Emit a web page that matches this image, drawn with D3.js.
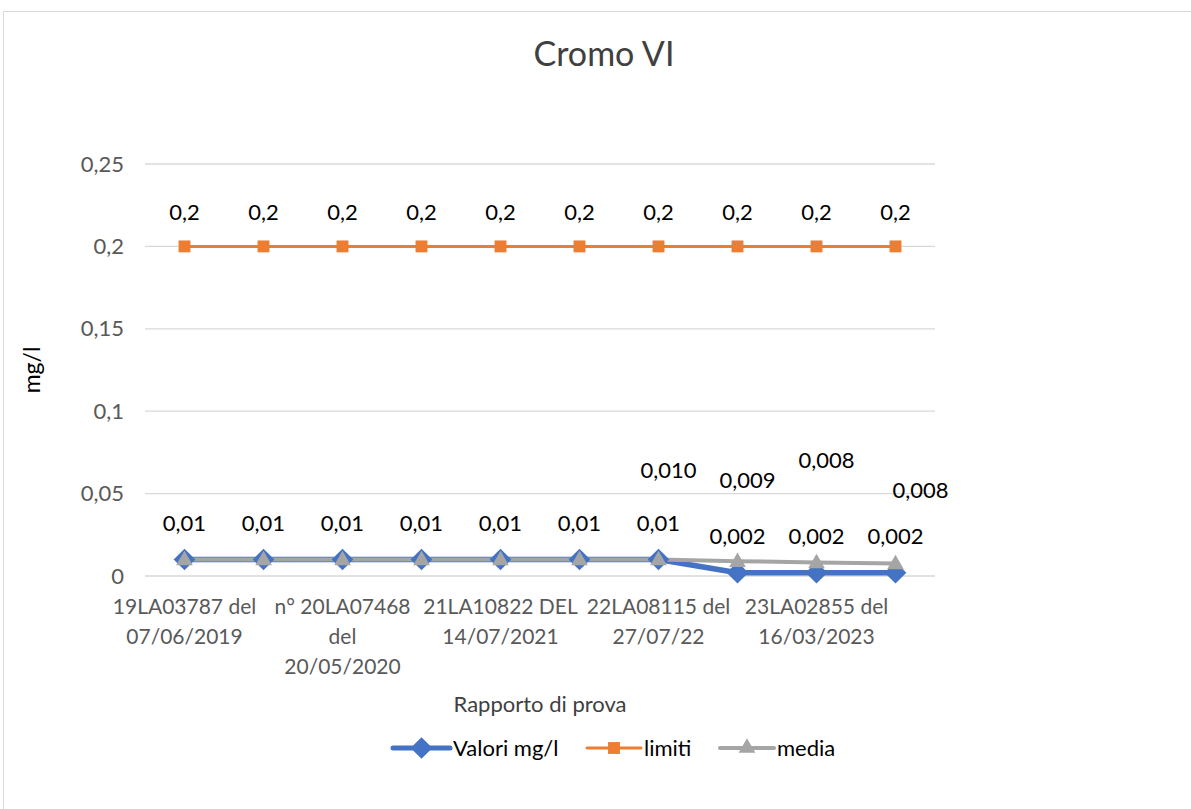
<!DOCTYPE html>
<html><head><meta charset="utf-8">
<script src="https://cdn.jsdelivr.net/npm/d3@7"></script>
<style>body{margin:0;background:#fff}svg{display:block}text{font-family:Lato,"Open Sans",sans-serif}</style>
</head><body><svg id="c" width="1191" height="809"></svg>
<script>
const categories = ["19LA03787 del\n07/06/2019","","n° 20LA07468\ndel\n20/05/2020","","21LA10822 DEL\n14/07/2021","","22LA08115 del\n27/07/22","","23LA02855 del\n16/03/2023",""];
const valori = [0.01,0.01,0.01,0.01,0.01,0.01,0.01,0.002,0.002,0.002];
const limiti = [0.2,0.2,0.2,0.2,0.2,0.2,0.2,0.2,0.2,0.2];
const media = [0.01,0.01,0.01,0.01,0.01,0.01,0.01,0.009,0.00822,0.0076];
const valoriLabels = ["0,01","0,01","0,01","0,01","0,01","0,01","0,01","0,002","0,002","0,002"];
const limitiLabels = ["0,2","0,2","0,2","0,2","0,2","0,2","0,2","0,2","0,2","0,2"];
const mediaLabels = [null,null,null,null,null,null,"0,010","0,009","0,008","0,008"];
const yTicks = [0,0.05,0.1,0.15,0.2,0.25];
const yTickLabels = ["0","0,05","0,1","0,15","0,2","0,25"];

const FS = 22;
const svg = d3.select("#c");
svg.append("rect").attr("x",3.5).attr("y",11.5).attr("width",1200).attr("height",810).attr("fill","#fff").attr("stroke","#d9d9d9");

const x = d3.scaleBand().domain(d3.range(categories.length)).range([145,935]);
const y = d3.scaleLinear().domain([0,0.25]).range([576,164]);
const cx = i => x(i)+x.bandwidth()/2;

// gridlines
svg.append("g").selectAll("line").data(yTicks).join("line")
  .attr("x1",145).attr("x2",935).attr("y1",d=>y(d)).attr("y2",d=>y(d))
  .attr("stroke","#d9d9d9").attr("stroke-width",1.3);

// y axis labels
const yAxis = d3.axisLeft(y).tickValues(yTicks).tickFormat((d,i)=>yTickLabels[i]).tickSize(0).tickPadding(0);
const ya = svg.append("g").attr("transform","translate(124,0)").call(yAxis);
ya.select(".domain").remove();
ya.selectAll("text").attr("font-size",FS).attr("fill","#595959").attr("font-family","Lato,sans-serif");

// x axis labels
const xl = svg.append("g");
categories.forEach((c,i)=>{
  if(!c) return;
  const t = xl.append("text").attr("font-size",21).attr("fill","#595959").attr("text-anchor","middle");
  c.split("\n").forEach((l,k)=>t.append("tspan").attr("x",cx(i)).attr("y",614+k*30).text(l));
});

// lines
const line = d3.line().x((d,i)=>cx(i)).y(d=>y(d));
svg.append("path").datum(limiti).attr("d",line).attr("fill","none").attr("stroke","#ED7D31").attr("stroke-width",3);
svg.append("path").datum(valori).attr("d",line).attr("fill","none").attr("stroke","#4472C4").attr("stroke-width",5.5).attr("stroke-linejoin","round");
svg.append("path").datum(media).attr("d",line).attr("fill","none").attr("stroke","#A5A5A5").attr("stroke-width",4);

// markers
const diamond = d3.symbol().type(d3.symbolDiamond2).size(300);
const square = d3.symbol().type(d3.symbolSquare2).size(180);
const tri = d3.symbol().type(d3.symbolTriangle2).size(200);
svg.append("g").selectAll("path").data(limiti).join("path").attr("d",square).attr("transform",(d,i)=>`translate(${cx(i)},${y(d)})`).attr("fill","#ED7D31");
svg.append("g").selectAll("path").data(valori).join("path").attr("d",diamond).attr("transform",(d,i)=>`translate(${cx(i)},${y(d)})`).attr("fill","#4472C4");
svg.append("g").selectAll("path").data(media).join("path").attr("d",tri).attr("transform",(d,i)=>`translate(${cx(i)},${y(d)+1})`).attr("fill","#A5A5A5");

// data labels
const lab = svg.append("g").attr("font-size",FS).attr("fill","#000").attr("text-anchor","middle");
limiti.forEach((d,i)=>lab.append("text").attr("x",cx(i)).attr("y",y(d)-26).text(limitiLabels[i]));
valori.forEach((d,i)=>lab.append("text").attr("x",cx(i)).attr("y",y(d)-29).text(valoriLabels[i]));
const mediaOff = [[0,0],[0,0],[0,0],[0,0],[0,0],[0,0],[10,-82],[10,-73],[10,-94],[25,-65]];
media.forEach((d,i)=>{ if(mediaLabels[i]) lab.append("text").attr("x",cx(i)+mediaOff[i][0]).attr("y",y(d)+mediaOff[i][1]).text(mediaLabels[i]); });

// title
svg.append("text").attr("x",604).attr("y",66).attr("text-anchor","middle").attr("font-size",34).attr("fill","#404040").text("Cromo VI");
// axis titles
svg.append("text").attr("transform","translate(40,370) rotate(-90)").attr("text-anchor","middle").attr("font-size",23).attr("fill","#000").text("mg/l");
svg.append("text").attr("x",540).attr("y",712).attr("text-anchor","middle").attr("font-size",FS).attr("fill","#404040").text("Rapporto di prova");

// legend
const legend = [{name:"Valori mg/l",color:"#4472C4",sym:diamond,x1:393,x2:450,w:5},{name:"limiti",color:"#ED7D31",sym:square,x1:587,x2:641,w:3},{name:"media",color:"#A5A5A5",sym:tri,x1:720,x2:774,w:4}];
const lg = svg.append("g");
legend.forEach(l=>{
  const m=(l.x1+l.x2)/2;
  lg.append("line").attr("x1",l.x1).attr("x2",l.x2).attr("y1",748).attr("y2",748).attr("stroke",l.color).attr("stroke-width",l.w).attr("stroke-linecap","round");
  lg.append("path").attr("d",l.sym).attr("transform",`translate(${m},748)`).attr("fill",l.color);
  lg.append("text").attr("x",l.x2+3).attr("y",756).attr("font-size",FS).attr("fill","#000").text(l.name);
});
</script></body></html>
